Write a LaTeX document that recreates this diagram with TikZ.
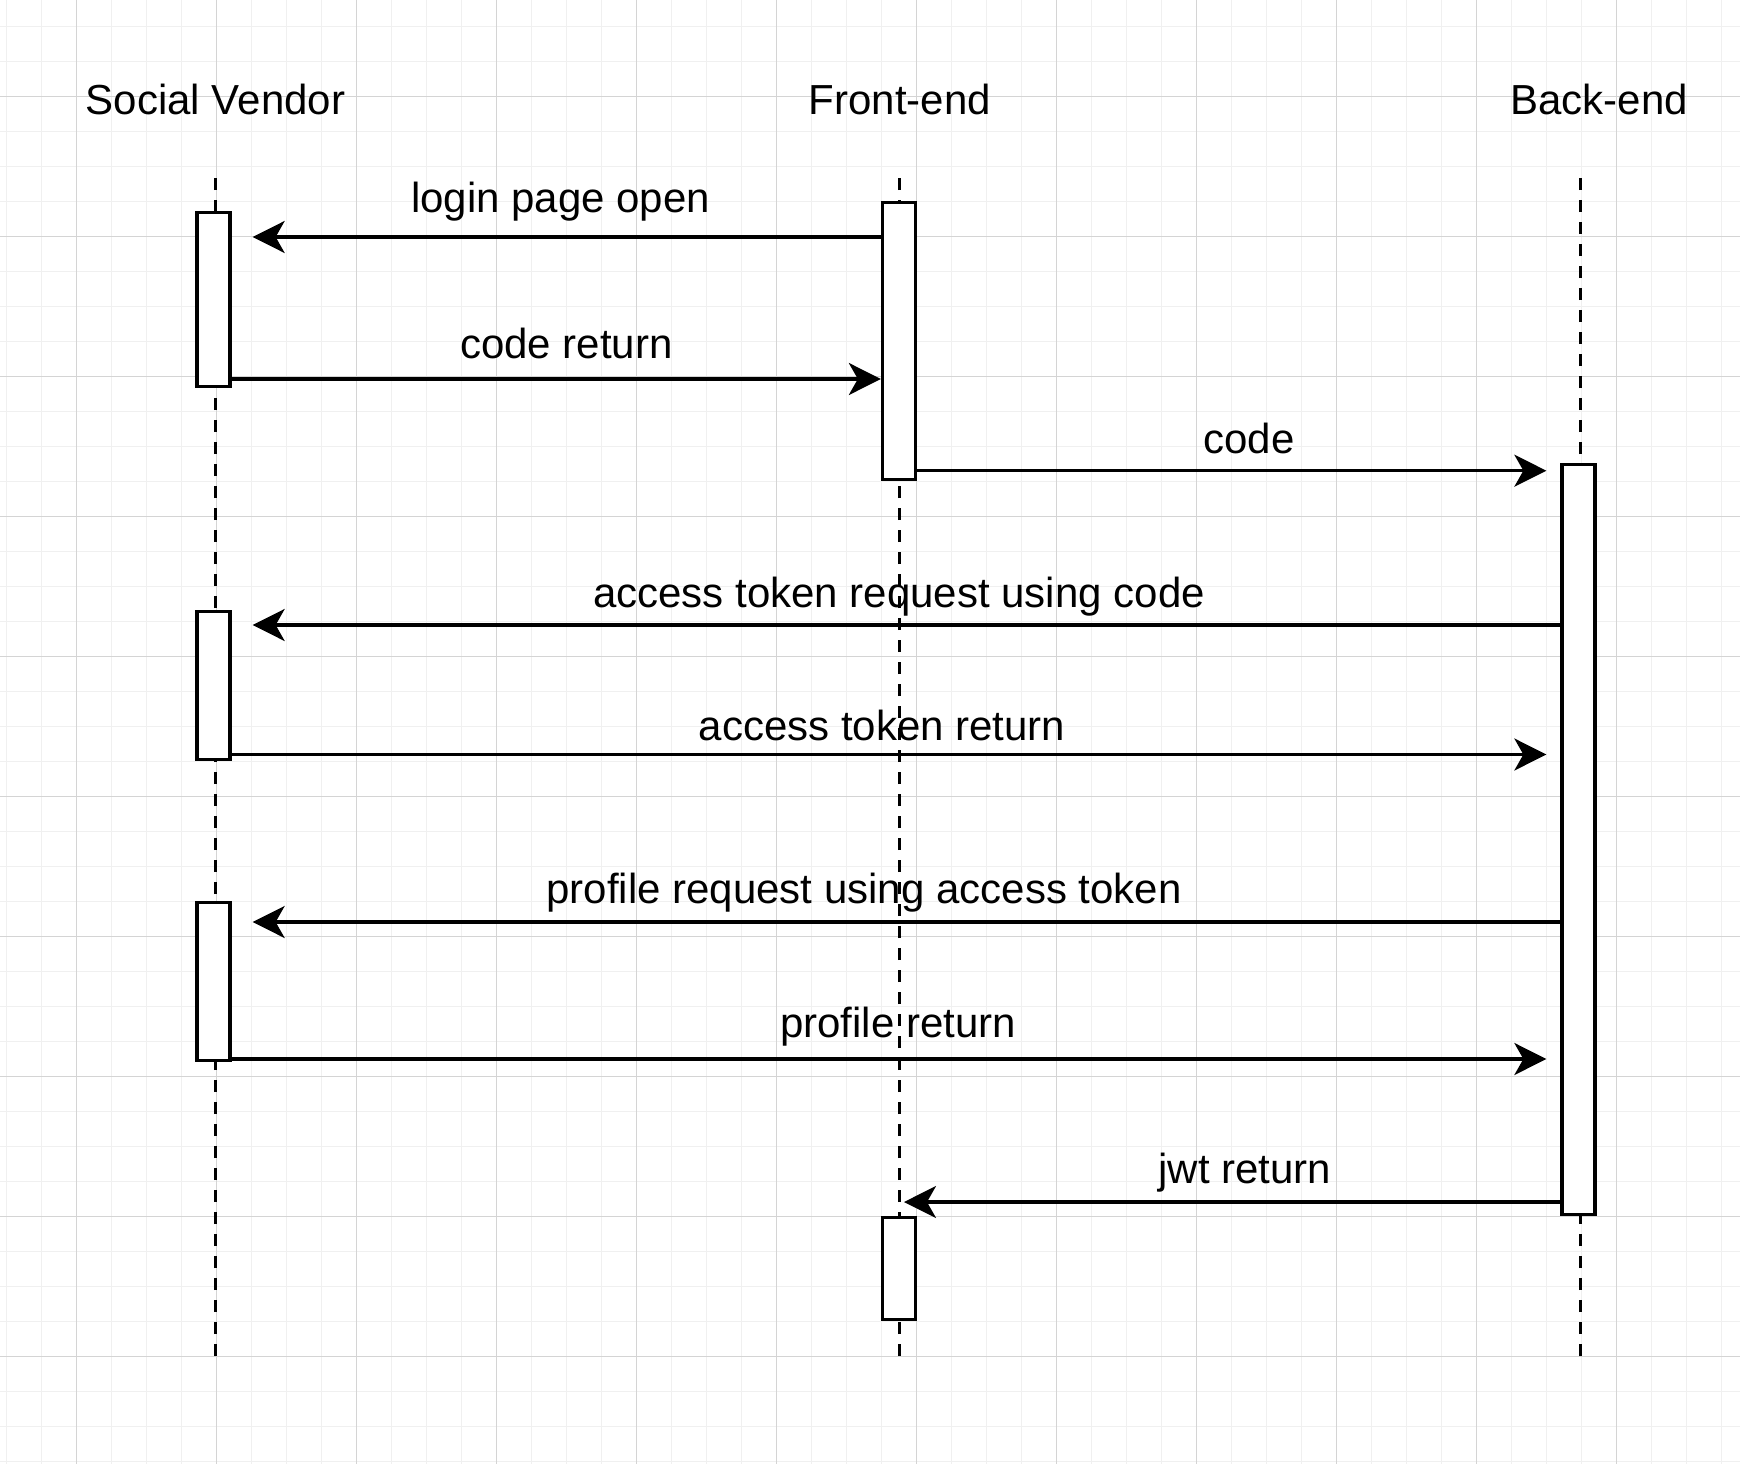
\documentclass[tikz,border=0pt]{standalone}
\usepackage{fontspec}
\setmainfont{Liberation Sans}
\usetikzlibrary{arrows.meta}

\definecolor{gridmajor}{RGB}{212,212,212}
\definecolor{gridminor}{RGB}{240,240,240}

\begin{document}
\begin{tikzpicture}[x=1pt,y=-1pt,
    every node/.style={font=\fontsize{42}{50}\selectfont},
    actor/.style={anchor=base,inner sep=0pt},
    msglabel/.style={anchor=base,inner sep=0pt},
    lifeline/.style={line width=3pt,dash pattern=on 12pt off 10pt},
    act/.style={draw,fill=white,line width=3.3pt,minimum width=33pt,inner sep=0pt},
    msg/.style={line width=3.1pt,-{Stealth[length=32pt,width=32pt,inset=9pt]}},
    minorgrid/.style={step=35pt,line width=1.3pt,gridminor},
    majorgrid/.style={step=140pt,line width=1.3pt,gridmajor}]

    \useasboundingbox (0,0) rectangle (1740,1464);

    %background grid
    \begin{scope}
    \clip (0,0) rectangle (1740,1464);
    \fill[white] (0,0) rectangle (1740,1464);
    \draw[minorgrid,shift={(6.5,26.7)}] (-50,1500) grid (1800,-50);
    \draw[majorgrid,shift={(76.5,96.7)}] (-200,1500) grid (1800,-200);
    \end{scope}

    %actors
    \node[actor] (vendor) at (215.5,114) {Social Vendor};
    \node[actor] (front) at (900,114) {Front-end};
    \node[actor] (back) at (1599,114) {Back-end};

    %lifelines (drawn upwards so the last dash sits on the bottom end)
    \draw[lifeline] (215.5,1356) -- (215.5,170);
    \draw[lifeline] (899.5,1356) -- (899.5,178);
    \draw[lifeline] (1580.5,1356) -- (1580.5,170);

    %message labels
    \node[msglabel] (lbl1) at (560.5,212) {login page open};
    \node[msglabel] (lbl2) at (566.5,358) {code return};
    \node[msglabel] (lbl3) at (1249,453) {code};
    \node[msglabel] (lbl4) at (899,607) {access token request using code};
    \node[msglabel] (lbl5) at (882,740) {access token return};
    \node[msglabel] (lbl6) at (864,903) {profile request using access token};
    \node[msglabel] (lbl7) at (898,1037) {profile return};
    \node[msglabel] (lbl8) at (1245,1183) {jwt return};

    %activation boxes
    \node[act,minimum height=174pt] (sv1) at (213.5,299.5) {};
    \node[act,minimum height=148pt] (sv2) at (213.5,685.5) {};
    \node[act,minimum height=158pt] (sv3) at (213.5,981.5) {};
    \node[act,minimum height=277pt] (fe1) at (899,341) {};
    \node[act,minimum height=102pt] (fe2) at (899,1268.5) {};
    \node[act,minimum height=750pt] (be1) at (1578.5,839.5) {};
    \coordinate (jwtend) at (904,1202);

    %messages
    \draw[msg,shorten >=21pt] (fe1.west |- 0,237) -- (sv1.east |- 0,237);
    \draw[msg] (sv1.east |- 0,379) -- (fe1.west |- 0,379);
    \draw[msg,shorten >=14pt] (fe1.east |- 0,470.7) -- (be1.west |- 0,470.7);
    \draw[msg,shorten >=21pt] (be1.west |- 0,625) -- (sv2.east |- 0,625);
    \draw[msg,shorten >=14pt] (sv2.east |- 0,754.5) -- (be1.west |- 0,754.5);
    \draw[msg,shorten >=21pt] (be1.west |- 0,922) -- (sv3.east |- 0,922);
    \draw[msg,shorten >=14pt] (sv3.east |- 0,1059) -- (be1.west |- 0,1059);
    \draw[msg] (be1.west |- 0,1202) -- (jwtend);

\end{tikzpicture}
\end{document}
